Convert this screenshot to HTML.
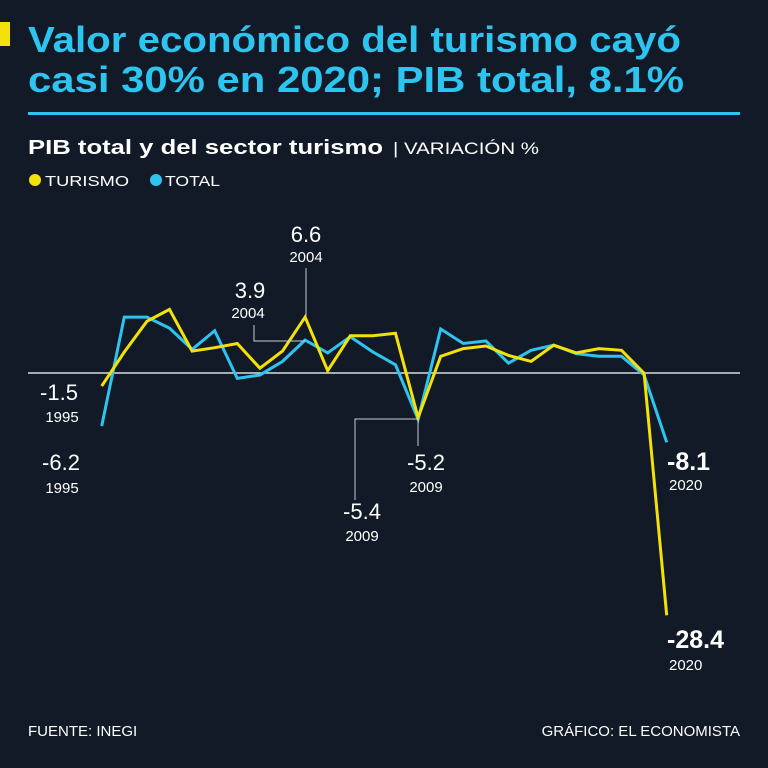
<!DOCTYPE html>
<html><head><meta charset="utf-8"><style>
html,body{margin:0;padding:0;background:#111a26;}
svg{display:block;font-family:"Liberation Sans",sans-serif;}
</style></head><body>
<svg width="768" height="768" viewBox="0 0 768 768">
<rect width="768" height="768" fill="#111a26"/>
<rect x="0" y="22" width="10" height="24" fill="#f4e10a"/>
<text x="28" y="52" font-size="36" font-weight="bold" fill="#2ec4f0" textLength="653" lengthAdjust="spacingAndGlyphs">Valor económico del turismo cayó</text>
<text x="28" y="92" font-size="36" font-weight="bold" fill="#2ec4f0" textLength="656" lengthAdjust="spacingAndGlyphs">casi 30% en 2020; PIB total, 8.1%</text>
<rect x="28" y="112" width="712" height="3" fill="#2ec4f0"/>
<text x="28" y="154" font-size="20" font-weight="bold" fill="#fff" textLength="355" lengthAdjust="spacingAndGlyphs">PIB total y del sector turismo</text>
<text x="393" y="154" font-size="17" fill="#fff" textLength="146" lengthAdjust="spacingAndGlyphs">| VARIACIÓN %</text>
<g>
<circle cx="35" cy="180" r="6" fill="#f4e10a"/>
<text x="45" y="186" font-size="15" fill="#fff" textLength="84" lengthAdjust="spacingAndGlyphs">TURISMO</text>
<circle cx="156" cy="180" r="6" fill="#2ec4f0"/>
<text x="165" y="186" font-size="15" fill="#fff" textLength="55" lengthAdjust="spacingAndGlyphs">TOTAL</text>
</g>
<line x1="28" y1="373" x2="740" y2="373" stroke="#d8dde3" stroke-width="1.5"/>
<g id="series"></g>
<g fill="#fff" text-anchor="middle">
<line x1="306" y1="268" x2="306" y2="316" stroke="#c8ccd2" stroke-width="1"/>
<text x="306" y="242" font-size="22">6.6</text>
<text x="306" y="262" font-size="15">2004</text>
<polyline points="254,325 254,341 305,341" fill="none" stroke="#c8ccd2" stroke-width="1"/>
<text x="250" y="298" font-size="22">3.9</text>
<text x="248" y="318" font-size="15">2004</text>
<text x="59" y="400" font-size="22">-1.5</text>
<text x="62" y="422" font-size="15">1995</text>
<text x="61" y="470" font-size="22">-6.2</text>
<text x="62" y="493" font-size="15">1995</text>
<line x1="418" y1="420" x2="418" y2="446" stroke="#c8ccd2" stroke-width="1"/>
<text x="426" y="470" font-size="22">-5.2</text>
<text x="426" y="492" font-size="15">2009</text>
<polyline points="355,500 355,419 418,419" fill="none" stroke="#c8ccd2" stroke-width="1"/>
<text x="362" y="519" font-size="22">-5.4</text>
<text x="362" y="541" font-size="15">2009</text>
</g>
<g fill="#fff">
<text x="667" y="470" font-size="25" font-weight="bold">-8.1</text>
<text x="669" y="490" font-size="15">2020</text>
<text x="667" y="648" font-size="25" font-weight="bold">-28.4</text>
<text x="669" y="670" font-size="15">2020</text>
</g>
<text x="28" y="736" font-size="15" fill="#fff">FUENTE: INEGI</text>
<text x="740" y="736" font-size="15" fill="#fff" text-anchor="end">GRÁFICO: EL ECONOMISTA</text>
</svg>
<script>
const years = [1995,1996,1997,1998,1999,2000,2001,2002,2003,2004,2005,2006,2007,2008,2009,2010,2011,2012,2013,2014,2015,2016,2017,2018,2019,2020];
const totalValues = [-6.2,6.6,6.6,5.3,2.8,5.0,-0.6,-0.2,1.4,3.9,2.4,4.3,2.5,1.0,-5.4,5.2,3.5,3.8,1.2,2.7,3.3,2.3,2.0,2.0,-0.2,-8.1];
const turismoValues = [-1.5,2.5,6.1,7.5,2.6,3.0,3.5,0.6,2.6,6.6,0.3,4.4,4.4,4.7,-5.2,2.0,2.9,3.2,2.1,1.4,3.3,2.4,2.9,2.7,0.0,-28.4];
function xScale(yr){ return 101.7 + (yr - 1995) * 22.6; }
function yScale(v){ return 373.3 - v * 8.52; }
const g = document.getElementById('series');
function draw(vals, color, name){
  const pl = document.createElementNS('http://www.w3.org/2000/svg','polyline');
  pl.setAttribute('points', vals.map((v,i)=>xScale(years[i]).toFixed(1)+','+yScale(v).toFixed(1)).join(' '));
  pl.setAttribute('fill','none');
  pl.setAttribute('stroke',color);
  pl.setAttribute('stroke-width','3');
  pl.setAttribute('stroke-linejoin','miter');
  
  
  g.appendChild(pl);
}
draw(totalValues,'#2ec4f0','line-total');
draw(turismoValues,'#f4e10a','line-turismo');
</script>
</body></html>
